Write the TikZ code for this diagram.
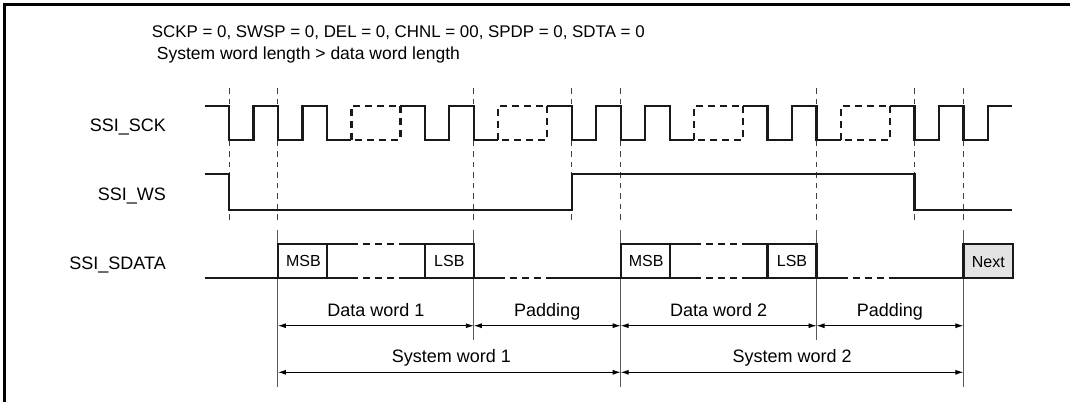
\documentclass[tikz,border=0pt]{standalone}
\usepackage{fontspec}
\setmainfont{Liberation Sans}
\usetikzlibrary{arrows.meta}
\begin{document}
\begin{tikzpicture}[x=1pt,y=-1pt,
  declare function={X(\k)=229+\k*24.48;},
  wave/.style={line width=2.3pt,line join=miter,black!90},
  wavedash/.style={wave,dash pattern=on 7pt off 5pt},
  guide/.style={line width=1pt,black!75,dash pattern=on 5.5pt off 5pt},
  ext/.style={line width=1pt,black!65},
  dim/.style={line width=0.9pt,{Latex[length=8pt,width=5pt]}-{Latex[length=8pt,width=5pt]}},
  lbl/.style={font=\fontsize{18}{20}\selectfont,inner sep=0pt},
  bit/.style={font=\fontsize{16}{18}\selectfont,inner sep=0pt},
  hdr/.style={inner sep=0pt,anchor=base west}]
\useasboundingbox (0,0) rectangle (1070,402);
% frame
\draw[line width=2.6pt] (4.7,402) -- (4.7,4.7) -- (1070,4.7);
% header
\node[hdr,font=\fontsize{16.9}{20}\selectfont] (h1) at (151.7,37.3) {SCKP = 0, SWSP = 0, DEL = 0, CHNL = 00, SPDP = 0, SDTA = 0};
\node[hdr,font=\fontsize{17.5}{20}\selectfont] (h2) at (156.7,59.5) {System word length > data word length};
% signal labels
\node[lbl,anchor=base east] (lsck) at (166,131) {SSI\_SCK};
\node[lbl,anchor=base east] (lws) at (166,200.5) {SSI\_WS};
\node[lbl,anchor=base east] (lsd) at (166,269.5) {SSI\_SDATA};
% guide lines
\foreach \k in {0,2,10,14,16,24,28,30}
  \draw[guide] ({X(\k)},88.3) -- ({X(\k)},223);
\foreach \k in {2,16,30}
  \draw[ext] ({X(\k)},230) -- ({X(\k)},386.7);
\foreach \k in {10,24}
  \draw[ext] ({X(\k)},230) -- ({X(\k)},340);
% clock
\def\H{105.7}\def\L{140}
\draw[wave] ({X(-1)},\H) -- ({X(0)},\H) -- ({X(0)},\L) -- ({X(1)},\L) -- ({X(1)},\H) -- ({X(2)},\H) -- ({X(2)},\L) -- ({X(3)},\L) -- ({X(3)},\H) -- ({X(4)},\H) -- ({X(4)},\L) -- ({X(5)},\L);
\draw[wave] ({X(7)},\H) -- ({X(8)},\H) -- ({X(8)},\L) -- ({X(9)},\L) -- ({X(9)},\H) -- ({X(10)},\H) -- ({X(10)},\L) -- ({X(11)},\L);
\draw[wave] ({X(13)},\H) -- ({X(14)},\H) -- ({X(14)},\L) -- ({X(15)},\L) -- ({X(15)},\H) -- ({X(16)},\H) -- ({X(16)},\L) -- ({X(17)},\L) -- ({X(17)},\H) -- ({X(18)},\H) -- ({X(18)},\L) -- ({X(19)},\L);
\draw[wave] ({X(21)},\H) -- ({X(22)},\H) -- ({X(22)},\L) -- ({X(23)},\L) -- ({X(23)},\H) -- ({X(24)},\H) -- ({X(24)},\L) -- ({X(25)},\L);
\draw[wave] ({X(27)},\H) -- ({X(28)},\H) -- ({X(28)},\L) -- ({X(29)},\L) -- ({X(29)},\H) -- ({X(30)},\H) -- ({X(30)},\L) -- ({X(31)},\L) -- ({X(31)},\H) -- ({X(32)},\H);
\foreach \k in {5,11,19,25}
  \draw[wavedash] ({X(\k)},\L) -- ({X(\k)},\H) -- ({X(\k+2)},\H) -- ({X(\k+2)},\L) -- cycle;
% word select
\def\WH{174.3}\def\WL{210}
\draw[wave] ({X(-1)},\WH) -- ({X(0)},\WH) -- ({X(0)},\WL) -- ({X(14)},\WL) -- ({X(14)},\WH) -- ({X(28)},\WH) -- ({X(28)},\WL) -- ({X(32)},\WL);
% data
\def\T{244.3}\def\B{277.7}
\draw[wave] ({X(-1)},\B) -- ({X(5)},\B);
\draw[wavedash] ({X(5)},\B) -- ({X(7)},\B);
\draw[wave] ({X(7)},\B) -- ({X(11)},\B);
\draw[wavedash] ({X(11)},\B) -- ({X(13)},\B);
\draw[wave] ({X(13)},\B) -- ({X(19)},\B);
\draw[wavedash] ({X(19)},\B) -- ({X(21)},\B);
\draw[wave] ({X(21)},\B) -- ({X(25)},\B);
\draw[wavedash] ({X(25)},\B) -- ({X(27)},\B);
\draw[wave] ({X(27)},\B) -- ({X(30)},\B);
\foreach \s in {0,14}{
  \draw[wave] ({X(\s+2)},\B) -- ({X(\s+2)},\T) -- ({X(\s+5)},\T);
  \draw[wavedash] ({X(\s+5)},\T) -- ({X(\s+7)},\T);
  \draw[wave] ({X(\s+7)},\T) -- ({X(\s+10)},\T) -- ({X(\s+10)},\B);
  \draw[wave] ({X(\s+4)},\T) -- ({X(\s+4)},\B);
  \draw[wave] ({X(\s+8)},\T) -- ({X(\s+8)},\B);
}
\draw[wave,fill=black!11] ({X(30)},\T) rectangle (1013.3,\B);
\node[bit,anchor=base] (msb1) at ({(X(2)+X(4))/2+1},266.7) {MSB};
\node[bit,anchor=base] (lsb1) at ({(X(8)+X(10))/2},266.7) {LSB};
\node[bit,anchor=base] (msb2) at ({(X(16)+X(18))/2+1},266.7) {MSB};
\node[bit,anchor=base] (lsb2) at ({(X(22)+X(24))/2},266.7) {LSB};
\node[bit,anchor=base] (nxt) at ({(X(30)+1013.3)/2},267.7) {Next};
% dimension coordinates
\coordinate (a0) at ({X(2)},325.7);
\coordinate (a1) at ({X(10)},325.7);
\coordinate (a2) at ({X(16)},325.7);
\coordinate (a3) at ({X(24)},325.7);
\coordinate (a4) at ({X(30)},325.7);
\coordinate (b0) at ({X(2)},372.3);
\coordinate (b2) at ({X(16)},372.3);
\coordinate (b4) at ({X(30)},372.3);
\draw[dim] (a0) -- (a1);
\draw[dim] (a1) -- (a2);
\draw[dim] (a2) -- (a3);
\draw[dim] (a3) -- (a4);
\draw[dim] (b0) -- (b2);
\draw[dim] (b2) -- (b4);
\node[lbl,anchor=base] (dw1) at ({(X(2)+X(10))/2},316) {Data word 1};
\node[lbl,anchor=base] (pd1) at ({(X(10)+X(16))/2},316) {Padding};
\node[lbl,anchor=base] (dw2) at ({(X(16)+X(24))/2},316) {Data word 2};
\node[lbl,anchor=base] (pd2) at ({(X(24)+X(30))/2},316) {Padding};
\node[lbl,anchor=base] (sw1) at ({(X(2)+X(16))/2+2},362.7) {System word 1};
\node[lbl,anchor=base] (sw2) at ({(X(16)+X(30))/2},362.7) {System word 2};
\end{tikzpicture}
\end{document}
